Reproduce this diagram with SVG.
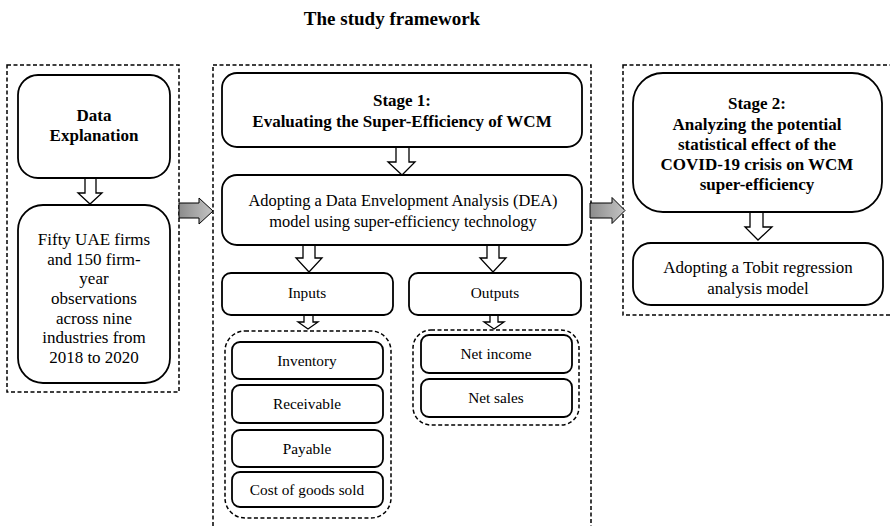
<svg xmlns="http://www.w3.org/2000/svg" width="890" height="526" viewBox="0 0 890 526">
<defs>
<linearGradient id="g" x1="0" y1="0" x2="1" y2="0">
<stop offset="0" stop-color="#8c8c8c"/>
<stop offset="1" stop-color="#c4c4c4"/>
</linearGradient>
<style>
.box{fill:#fff;stroke:#000;stroke-width:1.8}
.dash{fill:none;stroke:#000;stroke-width:1.5;stroke-dasharray:4 2.5}
.harrow{fill:#fff;stroke:#000;stroke-width:1.3;stroke-linejoin:miter}
.garrow{fill:url(#g);stroke:#000;stroke-width:1}
text{font-family:"Liberation Serif","Times New Roman",serif;fill:#000;text-anchor:middle}
.b{font-weight:bold;font-size:17px}
.r{font-size:17px}
.m{font-size:16.4px}
.s{font-size:15.3px}
</style>
</defs>
<rect width="890" height="526" fill="#fff"/>
<text x="392" y="25" class="b" style="font-size:19px">The study framework</text>

<g id="containers">
<rect class="dash" x="7" y="65" width="172" height="327"/>
<rect class="dash" x="213" y="65" width="378" height="470"/>
<rect class="dash" x="623" y="65" width="275" height="250"/>
<rect class="dash" x="225" y="331" width="166" height="187" rx="20"/>
<rect class="dash" x="413" y="330" width="166" height="95" rx="18"/>
</g>

<g id="connectors">
<path class="harrow" d="M85,178 V193 H78 L90,204 L102,193 H96 V178 Z"/>
<path class="harrow" d="M396,147 V162 H388 L402,175 L415,162 H409 V147 Z"/>
<path class="harrow" d="M303,245 V258 H296 L309,272 L322,258 H315 V245 Z"/>
<path class="harrow" d="M487,245 V258 H480 L493,272 L506,258 H499 V245 Z"/>
<path class="harrow" d="M750,212 V227 H745 L758,240 L772,227 H763 V212 Z"/>
<path class="harrow" d="M304,315 V322 H298 L308,329 L318,322 H313 V315 Z"/>
<path class="harrow" d="M490,315 V322 H484 L494,329 L504,322 H498 V315 Z"/>
<path class="garrow" d="M179,203 H199 V198 L213,211 L199,224 V218 H179 Z"/>
<path class="garrow" d="M590,203 H612 V197.5 L625,210.5 L612,223.5 V218 H590 Z"/>
</g>

<g id="data-explanation">
<rect class="box" x="18" y="75" width="152" height="103" rx="20"/>
<text class="b" x="94" y="121">Data</text>
<text class="b" x="94" y="141">Explanation</text>
</g>

<g id="data-desc">
<rect class="box" x="18" y="205" width="152" height="178" rx="25"/>
<text class="r" x="94" y="245">Fifty UAE firms</text>
<text class="r" x="94" y="265">and 150 firm-</text>
<text class="r" x="94" y="284">year</text>
<text class="r" x="94" y="304">observations</text>
<text class="r" x="94" y="324">across nine</text>
<text class="r" x="94" y="343">industries from</text>
<text class="r" x="94" y="363">2018 to 2020</text>
</g>

<g id="stage1">
<rect class="box" x="222" y="73" width="360" height="74" rx="15"/>
<text class="b" x="402" y="106">Stage 1:</text>
<text class="b" x="402" y="127">Evaluating the Super-Efficiency of WCM</text>
</g>

<g id="dea">
<rect class="box" x="222" y="175" width="360" height="70" rx="15"/>
<text class="m" x="403" y="206">Adopting a Data Envelopment Analysis (DEA)</text>
<text class="m" x="403" y="227">model using super-efficiency technology</text>
</g>

<g id="inputs">
<rect class="box" x="222" y="273" width="171" height="42" rx="9"/>
<text class="s" x="307" y="298">Inputs</text>
</g>

<g id="outputs">
<rect class="box" x="409" y="273" width="172" height="42" rx="9"/>
<text class="s" x="495" y="298">Outputs</text>
</g>

<g id="inventory">
<rect class="box" x="232" y="342" width="151" height="37" rx="8"/>
<text class="s" x="307" y="366">Inventory</text>
</g>
<g id="receivable">
<rect class="box" x="232" y="385" width="151" height="38" rx="8"/>
<text class="s" x="307" y="409">Receivable</text>
</g>
<g id="payable">
<rect class="box" x="232" y="430" width="151" height="37" rx="8"/>
<text class="s" x="307" y="454">Payable</text>
</g>
<g id="cogs">
<rect class="box" x="232" y="472" width="151" height="35" rx="8"/>
<text class="s" x="307" y="495">Cost of goods sold</text>
</g>

<g id="net-income">
<rect class="box" x="421" y="335" width="151" height="38" rx="8"/>
<text class="s" x="496" y="359">Net income</text>
</g>
<g id="net-sales">
<rect class="box" x="421" y="379" width="151" height="38" rx="8"/>
<text class="s" x="496" y="403">Net sales</text>
</g>

<g id="stage2">
<rect class="box" x="633" y="73" width="249" height="139" rx="30"/>
<text class="b" x="757" y="109">Stage 2:</text>
<text class="b" x="757" y="129.5">Analyzing the potential</text>
<text class="b" x="757" y="150">statistical effect of the</text>
<text class="b" x="757" y="170">COVID-19 crisis on WCM</text>
<text class="b" x="757" y="190">super-efficiency</text>
</g>

<g id="tobit">
<rect class="box" x="633" y="243" width="250" height="62" rx="18"/>
<text class="r" x="758" y="273">Adopting a Tobit regression</text>
<text class="r" x="758" y="294">analysis model</text>
</g>
</svg>
